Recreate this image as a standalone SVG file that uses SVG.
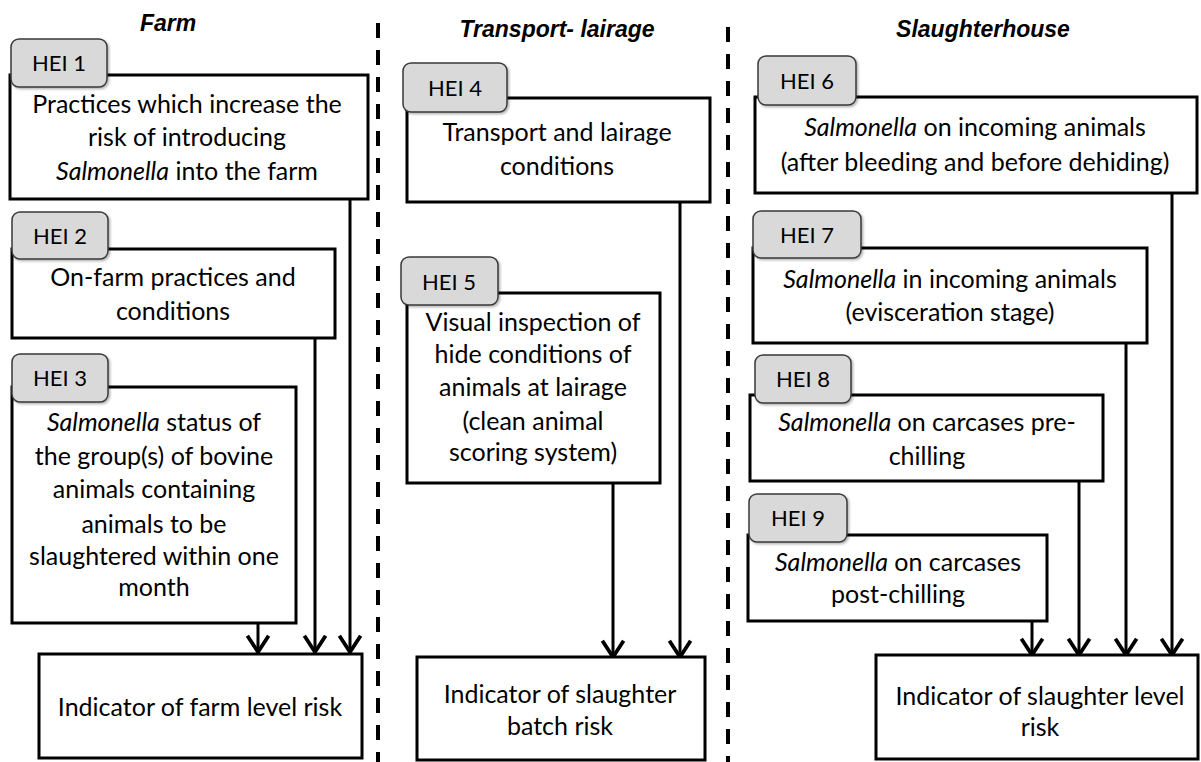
<svg xmlns="http://www.w3.org/2000/svg" width="1201" height="762" viewBox="0 0 1201 762">
<style>
.box{fill:#fff;stroke:#000;stroke-width:3}
.tab{fill:#d9d9d9;stroke:#3a3a3a;stroke-width:1.5}
.tt{font-family:Lato,"Liberation Sans",sans-serif;font-size:22px;fill:#000;text-anchor:middle}
.t{font-family:Lato,"Liberation Sans",sans-serif;font-size:25px;fill:#000;text-anchor:middle}
.h{font-family:"Liberation Sans",Lato,sans-serif;font-size:23px;font-weight:bold;font-style:italic;fill:#000;text-anchor:middle}
.div{stroke:#000;stroke-width:4;stroke-dasharray:15 12;fill:none}
.c{stroke:#000;stroke-width:3;fill:none;marker-end:url(#ah)}
</style>
<defs>
<marker id="ah" markerUnits="userSpaceOnUse" orient="auto" refX="0" refY="0" markerWidth="30" markerHeight="30" viewBox="-16 -12 20 24" overflow="visible">
<path d="M-13,-8.5 L0,0 L-13,8.5" fill="none" stroke="#000" stroke-width="3"/>
</marker>
<filter id="sh" x="-10%" y="-10%" width="130%" height="140%">
<feDropShadow dx="1.5" dy="1.5" stdDeviation="1.2" flood-color="#000" flood-opacity="0.3"/>
</filter>
</defs>
<rect width="1201" height="762" fill="#fff"/>

<g id="titles">
<text class="h" x="168" y="31">Farm</text>
<text class="h" x="557" y="37">Transport- lairage</text>
<text class="h" x="983" y="37">Slaughterhouse</text>
</g>

<g id="dividers">
<line class="div" x1="378" y1="23" x2="378" y2="762"/>
<line class="div" x1="728" y1="27" x2="728" y2="762"/>
</g>

<g id="connectors">
<line class="c" x1="350" y1="199" x2="350" y2="652"/>
<line class="c" x1="315" y1="338" x2="315" y2="652"/>
<line class="c" x1="258" y1="623" x2="258" y2="652"/>
<line class="c" x1="680" y1="202" x2="680" y2="657"/>
<line class="c" x1="613" y1="483" x2="613" y2="657"/>
<line class="c" x1="1172" y1="193" x2="1172" y2="655"/>
<line class="c" x1="1126" y1="343" x2="1126" y2="655"/>
<line class="c" x1="1079" y1="481" x2="1079" y2="655"/>
<line class="c" x1="1032" y1="621" x2="1032" y2="655"/>
</g>

<g id="hei1">
<rect class="box" x="10" y="75" width="358" height="124"/>
<rect class="tab" x="11" y="39" width="96" height="48" rx="8" filter="url(#sh)"/>
<text class="tt" x="59" y="71">HEI 1</text>
<text class="t" x="187" y="113">Practices which increase the</text>
<text class="t" x="187" y="146">risk of introducing</text>
<text class="t" x="187" y="180"><tspan font-style="italic">Salmonella</tspan> into the farm</text>
</g>

<g id="hei2">
<rect class="box" x="12" y="249" width="323" height="89"/>
<rect class="tab" x="12" y="212" width="96" height="47" rx="8" filter="url(#sh)"/>
<text class="tt" x="60" y="244">HEI 2</text>
<text class="t" x="173" y="286">On-farm practices and</text>
<text class="t" x="173" y="320">conditions</text>
</g>

<g id="hei3">
<rect class="box" x="12" y="387" width="284" height="236"/>
<rect class="tab" x="12" y="354" width="96" height="48" rx="8" filter="url(#sh)"/>
<text class="tt" x="60" y="386">HEI 3</text>
<text class="t" x="154" y="431"><tspan font-style="italic">Salmonella</tspan> status of</text>
<text class="t" x="154" y="465">the group(s) of bovine</text>
<text class="t" x="154" y="498">animals containing</text>
<text class="t" x="154" y="533">animals to be</text>
<text class="t" x="154" y="565">slaughtered within one</text>
<text class="t" x="154" y="596">month</text>
</g>

<g id="farm-indicator">
<rect class="box" x="39" y="654" width="323" height="104"/>
<text class="t" x="200" y="716">Indicator of farm level risk</text>
</g>

<g id="hei4">
<rect class="box" x="407" y="98" width="303" height="104"/>
<rect class="tab" x="403" y="63" width="104" height="49" rx="8" filter="url(#sh)"/>
<text class="tt" x="455" y="96">HEI 4</text>
<text class="t" x="557" y="141">Transport and lairage</text>
<text class="t" x="557" y="175">conditions</text>
</g>

<g id="hei5">
<rect class="box" x="407" y="293" width="253" height="190"/>
<rect class="tab" x="401" y="257" width="97" height="48" rx="8" filter="url(#sh)"/>
<text class="tt" x="449" y="290">HEI 5</text>
<text class="t" x="533" y="331">Visual inspection of</text>
<text class="t" x="533" y="363">hide conditions of</text>
<text class="t" x="533" y="396">animals at lairage</text>
<text class="t" x="533" y="430">(clean animal</text>
<text class="t" x="533" y="461">scoring system)</text>
</g>

<g id="batch-indicator">
<rect class="box" x="417" y="657" width="288" height="103"/>
<text class="t" x="560" y="703">Indicator of slaughter</text>
<text class="t" x="560" y="735">batch risk</text>
</g>

<g id="hei6">
<rect class="box" x="755" y="97" width="442" height="96"/>
<rect class="tab" x="758" y="56" width="98" height="49" rx="8" filter="url(#sh)"/>
<text class="tt" x="807" y="89">HEI 6</text>
<text class="t" x="975" y="136"><tspan font-style="italic">Salmonella</tspan> on incoming animals</text>
<text class="t" x="975" y="171">(after bleeding and before dehiding)</text>
</g>

<g id="hei7">
<rect class="box" x="753" y="248" width="394" height="95"/>
<rect class="tab" x="753" y="211" width="108" height="47" rx="8" filter="url(#sh)"/>
<text class="tt" x="807" y="243">HEI 7</text>
<text class="t" x="950" y="288"><tspan font-style="italic">Salmonella</tspan> in incoming animals</text>
<text class="t" x="950" y="321">(evisceration stage)</text>
</g>

<g id="hei8">
<rect class="box" x="750" y="395" width="353" height="86"/>
<rect class="tab" x="755" y="355" width="96" height="48" rx="8" filter="url(#sh)"/>
<text class="tt" x="803" y="387">HEI 8</text>
<text class="t" x="927" y="431"><tspan font-style="italic">Salmonella</tspan> on carcases pre-</text>
<text class="t" x="927" y="465">chilling</text>
</g>

<g id="hei9">
<rect class="box" x="748" y="535" width="299" height="86"/>
<rect class="tab" x="749" y="494" width="98" height="48" rx="8" filter="url(#sh)"/>
<text class="tt" x="798" y="526">HEI 9</text>
<text class="t" x="898" y="571"><tspan font-style="italic">Salmonella</tspan> on carcases</text>
<text class="t" x="898" y="603">post-chilling</text>
</g>

<g id="slaughter-indicator">
<rect class="box" x="876" y="655" width="322" height="104"/>
<text class="t" x="1040" y="705">Indicator of slaughter level</text>
<text class="t" x="1040" y="736">risk</text>
</g>
</svg>
